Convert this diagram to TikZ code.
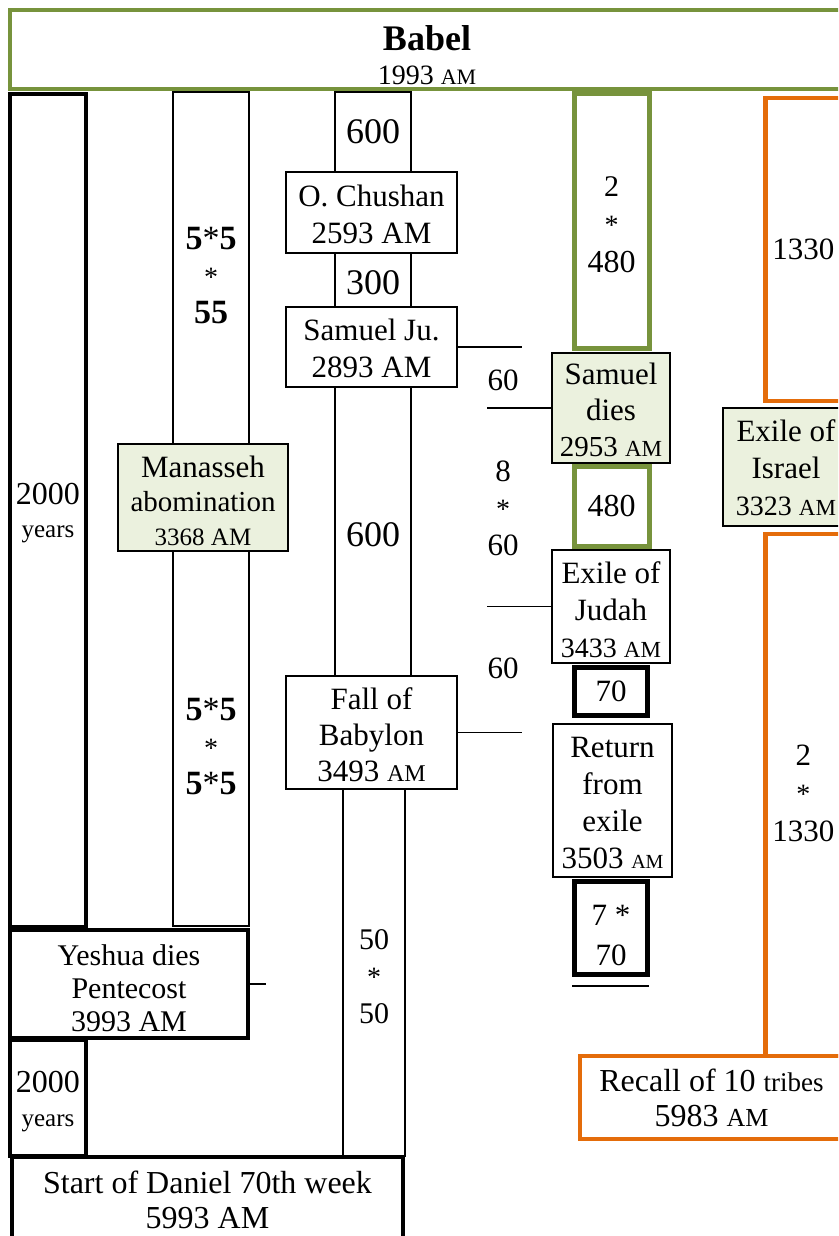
\documentclass[tikz,border=0pt]{standalone}
\usepackage{fontspec}
\setmainfont{Liberation Serif}
\definecolor{olivegrn}{RGB}{119,147,60}
\definecolor{paleg}{RGB}{235,241,222}
\definecolor{orng}{RGB}{228,108,10}
\newcommand\fs[1]{\fontsize{#1}{36}\selectfont}
\newcommand\fsk[2]{\fontsize{#1}{#2}\selectfont}
% box with its text centred
\newcommand\bx[7]{\node[#1, minimum width={(#5)-(#3)}, minimum height={(#6)-(#4)}] (#2) at ({((#3)+(#5))/2},{((#4)+(#6))/2}) {#7};}
% box whose text sits a little lower than its centre
\newcommand\bxs[8]{\node[#1, minimum width={(#5)-(#3)}, minimum height={(#6)-(#4)}] (#2) at ({((#3)+(#5))/2},{((#4)+(#6))/2}) {};
 \node[#1, draw=none, fill=none] (#2t) at ({((#3)+(#5))/2},{((#4)+(#6))/2+(#7)}) {#8};}
\begin{document}
\begin{tikzpicture}[x=1pt,y=-1pt,
 base/.style={rectangle, inner sep=0pt, outer sep=0pt, align=center, font=\fs{31}, text=black},
 thinbox/.style={base, draw=black, line width=1.3pt, fill=white},
 thickbox/.style={base, draw=black, line width=4pt, fill=white},
 greenbox/.style={base, draw=olivegrn, line width=5pt, fill=white},
 orangebox/.style={base, draw=orng, line width=4.5pt, fill=white},
 eventbox/.style={thinbox, fill=paleg},
 txt/.style={base},
 link/.style={draw=black, line width=1.4pt}]
\clip (0,0) rectangle (838,1236);

% Babel
\bx{greenbox, line width=4pt}{babel}{10}{10}{844}{89}{}
\node[txt, font=\fsk{31}{34}] (babeltxt) at (427,55) {{\fs{36}\bfseries Babel}\\{\fs{28}1993 {\fs{22}AM}}};

% column A
\bxs{thickbox, font=\fsk{31}{33}}{colA}{10}{94}{86}{927}{3}{{\fs{32}2000}\\{\fs{25}years}}
\bxs{thickbox, font=\fsk{31}{34}}{colAb}{10}{1040}{86}{1156}{4}{{\fs{32}2000}\\{\fs{25}years}}

% column B
\bxs{thinbox, font=\fsk{31}{37}}{colBtop}{173}{92}{249}{444}{8}{{\fs{34}\bfseries 5{\mdseries *}5}\\{\fs{28}*}\\{\fs{34}\bfseries 55}}
\bxs{thinbox, font=\fsk{31}{37}}{colBbot}{173}{551}{249}{926}{8}{{\fs{34}\bfseries 5{\mdseries *}5}\\{\fs{28}*}\\{\fs{34}\bfseries 5{\mdseries *}5}}

% column C
\bx{thinbox}{cA}{335}{92}{411}{172}{\fs{36}600}
\bxs{thinbox}{cB}{335}{253}{411}{307}{3}{\fs{36}300}
\bxs{thinbox}{cC}{335}{387}{411}{676}{3}{\fs{36}600}
\bxs{thinbox, font=\fsk{30}{37}}{cD}{343}{789}{405}{1156}{4}{50\\{\fs{28}*}\\50}

% column D
\bxs{greenbox, font=\fsk{30}{38}}{gA}{574}{94}{649}{348}{4}{2\\{\fs{28}*}\\{\fs{32}480}}
\bx{greenbox}{gB}{574}{466}{649}{546}{\fs{32}480}
\bx{thickbox, line width=5pt}{kA}{574.5}{667.5}{647.5}{715.5}{70}
\bxs{thickbox, line width=5pt, font=\fsk{31}{40}}{kB}{574.5}{881.5}{647.5}{974.5}{7}{7 *\\70}

% column E
\bx{orangebox}{oA}{765.5}{98}{841}{401}{1330}
\bxs{orangebox, font=\fsk{31}{38}}{oB}{765.5}{534}{841}{1056}{-2}{2\\{\fs{28}*}\\1330}

% events
\bxs{eventbox, font=\fsk{31}{34}}{manasseh}{118}{444}{288}{551}{3}{Manasseh\\{\fs{29}abomination}\\{\fs{25}3368 AM}}
\bxs{thinbox, font=\fsk{31}{37}}{chushan}{286}{172}{457}{253}{2}{O. Chushan\\2593 AM}
\bxs{thinbox, font=\fsk{31}{37}}{samju}{286}{307}{457}{387}{1}{Samuel Ju.\\2893 AM}
\bxs{thinbox, font=\fsk{31}{36}}{babylon}{286}{676}{457}{789}{2}{Fall of\\Babylon\\3493 {\fs{24}AM}}
\bxs{eventbox, font=\fsk{31}{36}}{samdies}{552}{353}{670}{463}{2}{Samuel\\dies\\{\fs{29}2953 {\fs{23}AM}}}
\bxs{thinbox, font=\fsk{31}{37}}{exjudah}{552}{550}{670}{663}{3}{Exile of\\Judah\\{\fs{28}3433 {\fs{23}AM}}}
\bxs{thinbox, font=\fsk{31}{37}}{return}{553}{724}{672}{877}{2}{Return\\from\\exile\\3503 {\fs{20}AM}}
\bxs{eventbox, font=\fsk{31}{37}}{exisrael}{723}{408}{849}{526}{1}{Exile of\\Israel\\{\fs{28}3323 {\fs{23}AM}}}
\bx{orangebox, font=\fsk{32}{35}}{recall}{580}{1056}{843}{1139}{Recall of 10 {\fs{27}tribes}\\5983 {\fs{26}AM}}
\bxs{thickbox, font=\fsk{30}{33}}{yeshua}{10}{930}{248}{1038}{4}{Yeshua dies\\Pentecost\\3993 AM}
\bx{thickbox, font=\fsk{32}{35}}{daniel}{12}{1157}{403}{1243}{Start of Daniel 70th week\\5993 AM}

% labels
\node[txt] (lA) at (503,380) {60};
\node[txt, font=\fsk{31}{37}] (lB) at (503,508) {8\\{\fs{28}*}\\60};
\node[txt] (lC) at (503,668) {60};

% connectors (free ends)
\coordinate (e1) at (522,347);
\coordinate (e2) at (487,407);
\coordinate (e3) at (487,607);
\coordinate (e4) at (522,734);
\coordinate (e5) at (266,983);
\coordinate (u1) at (572,986);
\coordinate (u2) at (649,986);
\draw[link] (samju.east) -- (samju.east -| e1);
\draw[link] (samdies.west) -- (samdies.west -| e2);
\draw[link] (exjudah.west) -- (exjudah.west -| e3);
\draw[link] (babylon.east) -- (babylon.east -| e4);
\draw[link] (yeshua.east) -- (yeshua.east -| e5);
\draw[link] (u1) -- (u2);
\end{tikzpicture}
\end{document}
